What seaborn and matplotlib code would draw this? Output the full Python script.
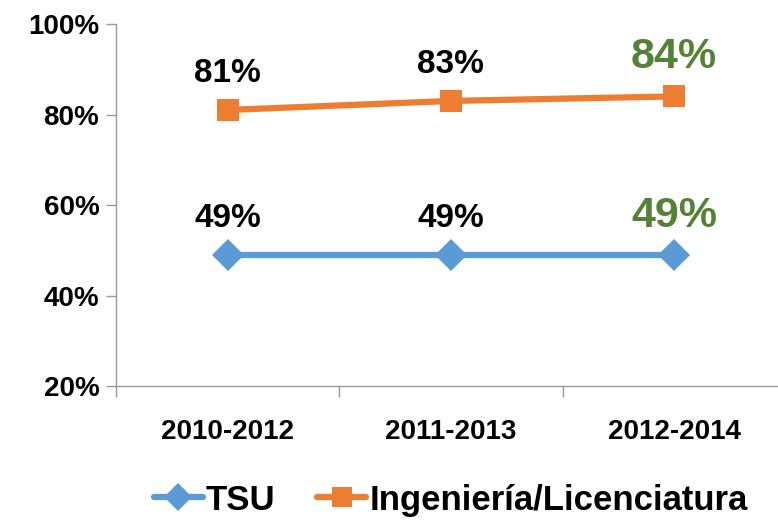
import matplotlib
matplotlib.use("Agg")
import numpy as np
import pandas as pd
import matplotlib.pyplot as plt
import seaborn as sns
from matplotlib.ticker import FixedLocator

# data
periods = ["2010-2012", "2011-2013", "2012-2014"]
tsu = [49, 49, 49]
ing = [81, 83, 84]
series_names = ["TSU", "Ingeniería/Licenciatura"]

data = pd.DataFrame({
    "Periodo": periods * 2,
    "Valor": tsu + ing,
    "Serie": [series_names[0]] * 3 + [series_names[1]] * 3,
})

sns.set_style("white")
plt.rcParams["font.family"] = ["Liberation Sans", "DejaVu Sans"]
plt.rcParams["font.weight"] = "bold"
plt.rcParams["text.color"] = "black"
plt.rcParams["xtick.color"] = "black"
plt.rcParams["ytick.color"] = "black"

blue = "#5B9BD5"
orange = "#ED7D31"
green = "#548235"

fig = plt.figure(figsize=(7.78, 5.21), dpi=100)
ax = fig.add_axes([116 / 778, 1 - 386 / 521, 1 - 116 / 778 + 0.01, (386 - 24) / 521])

sns.lineplot(data=data, x="Periodo", y="Valor", hue="Serie", style="Serie",
             palette={series_names[0]: blue, series_names[1]: orange},
             markers={series_names[0]: "D", series_names[1]: "s"},
             dashes=False, linewidth=4.5, markersize=16, markeredgewidth=0,
             sort=False, ax=ax)

ax.set_ylim(20, 100)
ax.set_xlim(-0.5, 2.5)
ax.set_yticks([20, 40, 60, 80, 100])
ax.set_yticklabels([f"{v}%" for v in [20, 40, 60, 80, 100]], fontsize=20, fontweight="bold")
ax.set_xticks(range(3))
ax.set_xticklabels(periods, fontsize=20, fontweight="bold")
ax.xaxis.set_minor_locator(FixedLocator([-0.5, 0.5, 1.5, 2.5]))
ax.tick_params(axis="x", which="major", bottom=True, length=0, pad=24, labelcolor="black")
ax.tick_params(axis="x", which="minor", bottom=True, length=8, color="#999999", width=1,
               direction="out")
ax.tick_params(axis="y", left=True, length=7, color="#999999", width=1, direction="out",
               pad=5, labelcolor="black")
ax.set_xlabel("")
ax.set_ylabel("")
for s in ["top", "right"]:
    ax.spines[s].set_visible(False)
for s in ["left", "bottom"]:
    ax.spines[s].set_color("#999999")
    ax.spines[s].set_linewidth(1)

# data labels, last point highlighted in green
for vals in (ing, tsu):
    for i, v in enumerate(vals):
        if i < 2:
            ax.text(i, v + 6.2, f"{v}%", ha="center", va="baseline",
                    fontsize=24, fontweight="bold", color="black")
        else:
            ax.text(i, v + 6.2, f"{v}%", ha="center", va="baseline",
                    fontsize=31, fontweight="bold", color=green)

leg = ax.legend(loc="center", bbox_to_anchor=(0.5, -0.315), ncol=2, frameon=False,
                handlelength=1.4, handletextpad=0.1, columnspacing=1.2, markerscale=0.9,
                prop={"weight": "bold", "size": 25})
for t in leg.get_texts():
    t.set_color("black")

fig.savefig("out.png", dpi=100)
